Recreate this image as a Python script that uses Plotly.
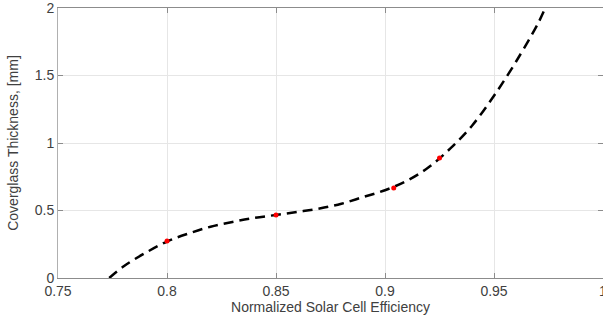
import plotly.graph_objects as go

# Curve
curve_x = [0.7735, 0.78, 0.79, 0.80, 0.81, 0.82, 0.83, 0.84, 0.85, 0.86, 0.87, 0.88,
           0.89, 0.90, 0.91, 0.92, 0.93, 0.94, 0.95, 0.96, 0.97, 0.9735]
curve_y = [0.0, 0.085, 0.185, 0.27, 0.33, 0.38, 0.415, 0.445, 0.467, 0.49, 0.515, 0.55,
           0.60, 0.65, 0.72, 0.82, 0.96, 1.13, 1.35, 1.60, 1.88, 2.0]

# Red sample points
pts_x = [0.80, 0.85, 0.904, 0.925]
pts_y = [0.274, 0.467, 0.667, 0.889]

x_ticks = [0.75, 0.8, 0.85, 0.9, 0.95, 1.0]
x_tick_text = ["0.75", "0.8", "0.85", "0.9", "0.95", "1"]
y_ticks = [0, 0.5, 1, 1.5, 2]
y_tick_text = ["0", "0.5", "1", "1.5", "2"]

fig = go.Figure()
fig.add_trace(go.Scatter(x=curve_x, y=curve_y, mode="lines",
                         line=dict(color="black", width=2.5, dash="10px,6px", shape="spline"),
                         showlegend=False))
fig.add_trace(go.Scatter(x=pts_x, y=pts_y, mode="markers",
                         marker=dict(color="red", size=5), showlegend=False))

font = dict(family="Liberation Sans, Arial, sans-serif", size=14, color="#404040")
fig.update_layout(
    width=603, height=321,
    margin=dict(l=58, r=0, t=8, b=43),
    plot_bgcolor="white", paper_bgcolor="white",
    font=font,
)
fig.update_xaxes(range=[0.75, 1.0], tickvals=x_ticks, ticktext=x_tick_text,
                 showgrid=True, gridcolor="#e6e6e6", gridwidth=1,
                 showline=True, linecolor="#8c8c8c", linewidth=1, mirror="ticks",
                 ticks="inside", ticklen=5, tickcolor="#8c8c8c",
                 zeroline=False, automargin=False, ticklabeloverflow="allow",
                 title=dict(text="Normalized Solar Cell Efficiency", standoff=4,
                            font=dict(size=14)))
fig.update_yaxes(range=[0, 2], tickvals=y_ticks, ticktext=y_tick_text,
                 showgrid=True, gridcolor="#e6e6e6", gridwidth=1,
                 showline=True, linecolor="#b0b0b0", linewidth=1, mirror="ticks",
                 ticks="inside", ticklen=5, tickcolor="#8c8c8c",
                 zeroline=False, automargin=False, ticklabeloverflow="allow",
                 title=dict(text="Coverglass Thickness, [mm]", standoff=12,
                            font=dict(size=14)))

fig.write_html("out.html", config={"displayModeBar": False},
               post_script="document.body.style.margin='0';document.body.style.overflow='hidden';")
